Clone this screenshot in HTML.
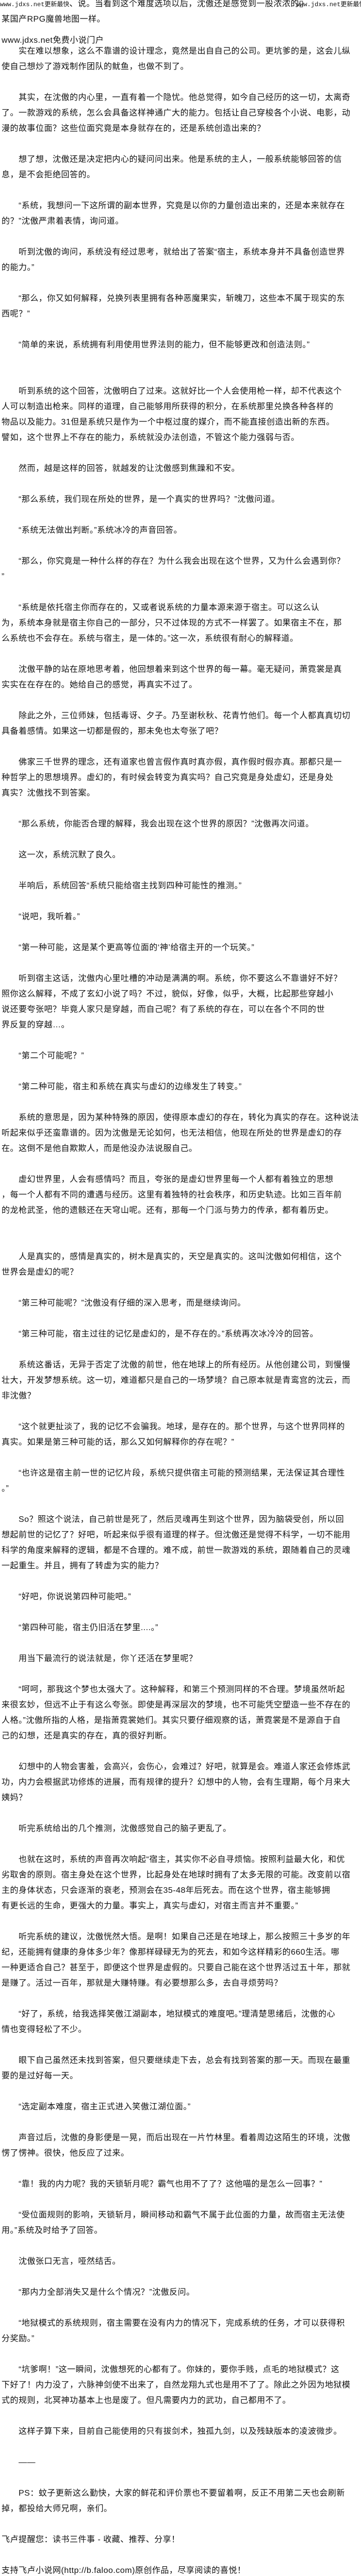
<!DOCTYPE html>
<html><head><meta charset="utf-8"><style>
html,body{margin:0;padding:0;background:#fff;overflow:hidden;}
html{width:700px;height:5030px;}
body{width:700px;height:5030px;position:relative;overflow:hidden;color:#111;font-family:"Liberation Sans","Noto Sans CJK SC",sans-serif;font-size:16px;letter-spacing:0.5px;}
#c{position:absolute;left:3px;top:85px;width:694px;height:4920px;overflow:hidden;}
.l{height:30px;line-height:30px;white-space:nowrap;overflow:hidden;}
.i{padding-left:33px;}
.s{font-family:"Liberation Mono","Noto Sans CJK SC",monospace;font-size:12px;letter-spacing:0;}
.a{position:absolute;white-space:nowrap;line-height:18px;height:18px;}
</style></head><body>
<div class="a" style="left:0;top:-1px;"><span class="s">www.jdxs.net更新最快</span>、说。当看到这个难度选项以后，沈傲还是感觉到一股浓浓的▯</div>
<div class="a s" style="left:574px;top:0;">www.jdxs.net更新最快</div>
<div class="a" style="left:3px;top:29px;">某国产RPG魔兽地图一样。</div>
<div class="a" style="left:3px;top:70px;">www.jdxs.net免费小说门户</div>
<div id="c">
<div class="l i">实在难以想象，这么不靠谱的设计理念，竟然是出自自己的公司。更坑爹的是，这会儿纵</div>
<div class="l">使自己想炒了游戏制作团队的鱿鱼，也做不到了。</div>
<div class="l"></div>
<div class="l i">其实，在沈傲的内心里，一直有着一个隐忧。他总觉得，如今自己经历的这一切，太离奇</div>
<div class="l">了。一款游戏的系统，怎么会具备这样神通广大的能力。包括让自己穿梭各个小说、电影，动</div>
<div class="l">漫的故事位面？这些位面究竟是本身就存在的，还是系统创造出来的？</div>
<div class="l"></div>
<div class="l i">想了想，沈傲还是决定把内心的疑问问出来。他是系统的主人，一般系统能够回答的信</div>
<div class="l">息，是不会拒绝回答的。</div>
<div class="l"></div>
<div class="l i">“系统，我想问一下这所谓的副本世界，究竟是以你的力量创造出来的，还是本来就存在</div>
<div class="l">的？”沈傲严肃着表情，询问道。</div>
<div class="l"></div>
<div class="l i">听到沈傲的询问，系统没有经过思考，就给出了答案“宿主，系统本身并不具备创造世界</div>
<div class="l">的能力。”</div>
<div class="l"></div>
<div class="l i">“那么，你又如何解释，兑换列表里拥有各种恶魔果实，斩魄刀，这些本不属于现实的东</div>
<div class="l">西呢？”</div>
<div class="l"></div>
<div class="l i">“简单的来说，系统拥有利用使用世界法则的能力，但不能够更改和创造法则。”</div>
<div class="l"></div>
<div class="l"></div>
<div class="l i">听到系统的这个回答，沈傲明白了过来。这就好比一个人会使用枪一样，却不代表这个</div>
<div class="l">人可以制造出枪来。同样的道理，自己能够用所获得的积分，在系统那里兑换各种各样的</div>
<div class="l">物品以及能力。31但是系统只是作为一个中枢过度的媒介，而不能直接创造出新的东西。</div>
<div class="l">譬如，这个世界上不存在的能力，系统就没办法创造，不管这个能力强弱与否。</div>
<div class="l"></div>
<div class="l i">然而，越是这样的回答，就越发的让沈傲感到焦躁和不安。</div>
<div class="l"></div>
<div class="l i">“那么系统，我们现在所处的世界，是一个真实的世界吗？”沈傲问道。</div>
<div class="l"></div>
<div class="l i">“系统无法做出判断。”系统冰冷的声音回答。</div>
<div class="l"></div>
<div class="l i">“那么，你究竟是一种什么样的存在？为什么我会出现在这个世界，又为什么会遇到你？</div>
<div class="l">”</div>
<div class="l"></div>
<div class="l i">“系统是依托宿主你而存在的，又或者说系统的力量本源来源于宿主。可以这么认</div>
<div class="l">为，系统本身就是宿主你自己的一部分，只不过体现的方式不一样罢了。如果宿主不在，那</div>
<div class="l">么系统也不会存在。系统与宿主，是一体的。”这一次，系统很有耐心的解释道。</div>
<div class="l"></div>
<div class="l i">沈傲平静的站在原地思考着，他回想着来到这个世界的每一幕。毫无疑问，萧霓裳是真</div>
<div class="l">实实在在存在的。她给自己的感觉，再真实不过了。</div>
<div class="l"></div>
<div class="l i">除此之外，三位师妹，包括毒讶、夕子。乃至谢秋秋、花青竹他们。每一个人都真真切切</div>
<div class="l">具备着感情。如果这一切都是假的，那未免也太夸张了吧？</div>
<div class="l"></div>
<div class="l i">佛家三千世界的理念，还有道家也曾言假作真时真亦假，真作假时假亦真。那都只是一</div>
<div class="l">种哲学上的思想境界。虚幻的，有时候会转变为真实吗？自己究竟是身处虚幻，还是身处</div>
<div class="l">真实？沈傲找不到答案。</div>
<div class="l"></div>
<div class="l i">“那么系统，你能否合理的解释，我会出现在这个世界的原因？”沈傲再次问道。</div>
<div class="l"></div>
<div class="l i">这一次，系统沉默了良久。</div>
<div class="l"></div>
<div class="l i">半响后，系统回答“系统只能给宿主找到四种可能性的推测。”</div>
<div class="l"></div>
<div class="l i">“说吧，我听着。”</div>
<div class="l"></div>
<div class="l i">“第一种可能，这是某个更高等位面的‘神’给宿主开的一个玩笑。”</div>
<div class="l"></div>
<div class="l i">听到宿主这话，沈傲内心里吐槽的冲动是满满的啊。系统，你不要这么不靠谱好不好？</div>
<div class="l">照你这么解释，不成了玄幻小说了吗？不过，貌似，好像，似乎，大概，比起那些穿越小</div>
<div class="l">说还要夸张吧？毕竟人家只是穿越，而自己呢？有了系统的存在，可以在各个不同的世</div>
<div class="l">界反复的穿越…。</div>
<div class="l"></div>
<div class="l i">“第二个可能呢？”</div>
<div class="l"></div>
<div class="l i">“第二种可能，宿主和系统在真实与虚幻的边缘发生了转变。”</div>
<div class="l"></div>
<div class="l i">系统的意思是，因为某种特殊的原因，使得原本虚幻的存在，转化为真实的存在。这种说法</div>
<div class="l">听起来似乎还蛮靠谱的。因为沈傲是无论如何，也无法相信，他现在所处的世界是虚幻的存</div>
<div class="l">在。这倒不是他自欺欺人，而是他没办法说服自己。</div>
<div class="l"></div>
<div class="l i">虚幻世界里，人会有感情吗？而且，夸张的是虚幻世界里每一个人都有着独立的思想</div>
<div class="l">，每一个人都有不同的遭遇与经历。这里有着独特的社会秩序，和历史轨迹。比如三百年前</div>
<div class="l">的龙枪武圣，他的遗骸还在天穹山呢。还有，那每一个门派与势力的传承，都有着历史。</div>
<div class="l"></div>
<div class="l"></div>
<div class="l i">人是真实的，感情是真实的，树木是真实的，天空是真实的。这叫沈傲如何相信，这个</div>
<div class="l">世界会是虚幻的呢？</div>
<div class="l"></div>
<div class="l i">“第三种可能呢？”沈傲没有仔细的深入思考，而是继续询问。</div>
<div class="l"></div>
<div class="l i">“第三种可能，宿主过往的记忆是虚幻的，是不存在的。”系统再次冰冷冷的回答。</div>
<div class="l"></div>
<div class="l i">系统这番话，无异于否定了沈傲的前世，他在地球上的所有经历。从他创建公司，到慢慢</div>
<div class="l">壮大，开发梦想系统。这一切，难道都只是自己的一场梦境？自己原本就是青鸾宫的沈云，而</div>
<div class="l">非沈傲？</div>
<div class="l"></div>
<div class="l i">“这个就更扯淡了，我的记忆不会骗我。地球，是存在的。那个世界，与这个世界同样的</div>
<div class="l">真实。如果是第三种可能的话，那么又如何解释你的存在呢？”</div>
<div class="l"></div>
<div class="l i">“也许这是宿主前一世的记忆片段，系统只提供宿主可能的预测结果，无法保证其合理性</div>
<div class="l">。”</div>
<div class="l"></div>
<div class="l i">So？照这个说法，自己前世是死了，然后灵魂再生到这个世界，因为脑袋受创，所以回</div>
<div class="l">想起前世的记忆了？好吧，听起来似乎很有道理的样子。但沈傲还是觉得不科学，一切不能用</div>
<div class="l">科学的角度来解释的逻辑，都是不合理的。难不成，前世一款游戏的系统，跟随着自己的灵魂</div>
<div class="l">一起重生。并且，拥有了转虚为实的能力？</div>
<div class="l"></div>
<div class="l i">“好吧，你说说第四种可能吧。”</div>
<div class="l"></div>
<div class="l i">“第四种可能，宿主仍旧活在梦里....。”</div>
<div class="l"></div>
<div class="l i">用当下最流行的说法就是，你丫还活在梦里呢？</div>
<div class="l"></div>
<div class="l i">“呵呵，那我这个梦也太强大了。这种解释，和第三个预测同样的不合理。梦境虽然听起</div>
<div class="l">来很玄妙，但远不止于有这么夸张。即使是再深层次的梦境，也不可能凭空塑造一些不存在的</div>
<div class="l">人格。”沈傲所指的人格，是指萧霓裳她们。其实只要仔细观察的话，萧霓裳是不是源自于自</div>
<div class="l">己的幻想，还是真实的存在，真的很好判断。</div>
<div class="l"></div>
<div class="l i">幻想中的人物会害羞，会高兴，会伤心，会难过？好吧，就算是会。难道人家还会修炼武</div>
<div class="l">功，内力会根据武功修炼的进展，而有规律的提升？幻想中的人物，会有生理期，每个月来大</div>
<div class="l">姨妈？</div>
<div class="l"></div>
<div class="l i">听完系统给出的几个推测，沈傲感觉自己的脑子更乱了。</div>
<div class="l"></div>
<div class="l i">也就在这时，系统的声音再次响起“宿主，其实你不必自寻烦恼。按照利益最大化，和优</div>
<div class="l">劣取舍的原则。宿主身处在这个世界，比起身处在地球时拥有了太多无限的可能。改变前以宿</div>
<div class="l">主的身体状态，只会逐渐的衰老，预测会在35-48年后死去。而在这个世界，宿主能够拥</div>
<div class="l">有更长远的生命，更强大的力量。事实上，真实与虚幻，对宿主而言并不重要。”</div>
<div class="l"></div>
<div class="l i">听完系统的建议，沈傲恍然大悟。是啊！如果自己还是在地球上，那么按照三十多岁的年</div>
<div class="l">纪，还能拥有健康的身体多少年？像那样碌碌无为的死去，和如今这样精彩的660生活。哪</div>
<div class="l">一种更适合自己？甚至于，即便这个世界是虚假的。只要自己能在这个世界活过五十年，那就</div>
<div class="l">是赚了。活过一百年，那就是大赚特赚。有必要想那么多，去自寻烦劳吗？</div>
<div class="l"></div>
<div class="l i">“好了，系统，给我选择笑傲江湖副本，地狱模式的难度吧。”理清楚思绪后，沈傲的心</div>
<div class="l">情也变得轻松了不少。</div>
<div class="l"></div>
<div class="l i">眼下自己虽然还未找到答案，但只要继续走下去，总会有找到答案的那一天。而现在最重</div>
<div class="l">要的是过好每一天。</div>
<div class="l"></div>
<div class="l i">“选定副本难度，宿主正式进入笑傲江湖位面。”</div>
<div class="l"></div>
<div class="l i">声音过后，沈傲的身影便是一晃，而后出现在一片竹林里。看着周边这陌生的环境，沈傲</div>
<div class="l">愣了愣神。很快，他反应了过来。</div>
<div class="l"></div>
<div class="l i">“靠！我的内力呢？我的天锁斩月呢？霸气也用不了了？这他喵的是怎么一回事？”</div>
<div class="l"></div>
<div class="l i">“受位面规则的影响，天锁斩月，瞬间移动和霸气不属于此位面的力量，故而宿主无法使</div>
<div class="l">用。”系统及时给予了回答。</div>
<div class="l"></div>
<div class="l i">沈傲张口无言，哑然结舌。</div>
<div class="l"></div>
<div class="l i">“那内力全部消失又是什么个情况？”沈傲反问。</div>
<div class="l"></div>
<div class="l i">“地狱模式的系统规则，宿主需要在没有内力的情况下，完成系统的任务，才可以获得积</div>
<div class="l">分奖励。”</div>
<div class="l"></div>
<div class="l i">“坑爹啊！”这一瞬间，沈傲想死的心都有了。你妹的，要你手贱，点毛的地狱模式？这</div>
<div class="l">下好了！内力没了，六脉神剑使不出来了，自然龙翔九式也是用不了了。除此之外因为地狱模</div>
<div class="l">式的规则，北冥神功基本上也是废了。但凡需要内力的武功，自己都用不了。</div>
<div class="l"></div>
<div class="l i">这样子算下来，目前自己能使用的只有拔剑术，独孤九剑，以及残缺版本的凌波微步。</div>
<div class="l"></div>
<div class="l i">——</div>
<div class="l"></div>
<div class="l i">PS：蚊子更新这么勤快，大家的鲜花和评价票也不要留着啊，反正不用第二天也会刷新</div>
<div class="l">掉，都投给大师兄啊，亲们。</div>
<div class="l"></div>
<div class="l">飞卢提醒您：读书三件事 - 收藏、推荐、分享！</div>
<div class="l"></div>
<div class="l">支持飞卢小说网(http://b.faloo.com)原创作品，尽享阅读的喜悦！</div>
</div>
<div class="a s" style="left:0;top:5008px;height:16px;line-height:16px;">www.jdxs.net更新最快</div>
</body></html>
